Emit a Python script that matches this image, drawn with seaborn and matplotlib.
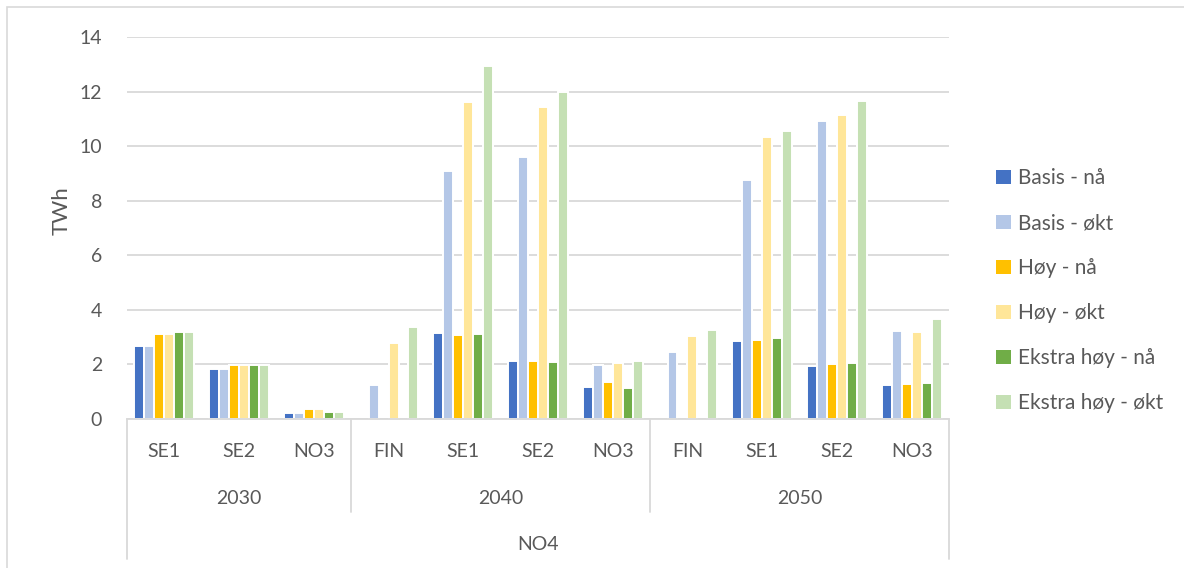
import numpy as np
import pandas as pd
import matplotlib
matplotlib.use("Agg")
import matplotlib.pyplot as plt
from matplotlib.patches import Rectangle
import seaborn as sns

# Category axis: region within each year, all under NO4
years = ["2030", "2030", "2030", "2040", "2040", "2040", "2040", "2050", "2050", "2050", "2050"]
areas = ["SE1", "SE2", "NO3", "FIN", "SE1", "SE2", "NO3", "FIN", "SE1", "SE2", "NO3"]
outer_label = "NO4"

series_names = ["Basis - nå", "Basis - økt", "Høy - nå", "Høy - økt",
                "Ekstra høy - nå", "Ekstra høy - økt"]
series_colors = ["#4472C4", "#B4C7E7", "#FFC000", "#FFE699", "#70AD47", "#C5E0B4"]

nan = np.nan
basis_naa = [2.68, 1.83, 0.22, nan, 3.15, 2.13, 1.19, nan, 2.85, 1.96, 1.24]
basis_okt = [2.68, 1.83, 0.22, 1.25, 9.08, 9.60, 1.99, 2.45, 8.76, 10.93, 3.24]
hoy_naa = [3.13, 1.98, 0.37, nan, 3.09, 2.11, 1.37, nan, 2.88, 2.03, 1.29]
hoy_okt = [3.13, 1.98, 0.37, 2.79, 11.60, 11.45, 2.07, 3.04, 10.33, 11.13, 3.20]
ekstra_naa = [3.20, 1.98, 0.27, nan, 3.12, 2.10, 1.13, nan, 2.96, 2.07, 1.32]
ekstra_okt = [3.20, 1.98, 0.27, 3.36, 12.95, 11.99, 2.13, 3.26, 10.54, 11.65, 3.68]

series_values = [basis_naa, basis_okt, hoy_naa, hoy_okt, ekstra_naa, ekstra_okt]

keys = [f"{y} {a}" for y, a in zip(years, areas)]
rows = []
for name, vals in zip(series_names, series_values):
    for k, v in zip(keys, vals):
        rows.append({"key": k, "series": name, "TWh": v})
df = pd.DataFrame(rows).dropna()

sns.set_theme(style="white")
plt.rcParams["font.family"] = ["Lato", "DejaVu Sans"]
text_col = "#595959"
grid_col = "#D9D9D9"

W, H = 1184, 568
fig = plt.figure(figsize=(W / 100, H / 100), dpi=100)
ax = fig.add_axes([127 / W, 1 - 419 / H, (949 - 127) / W, (419 - 37) / H])

sns.barplot(data=df, x="key", y="TWh", hue="series", order=keys,
            hue_order=series_names, palette=series_colors, saturation=1,
            width=0.8, errorbar=None, edgecolor="white", linewidth=1.4, ax=ax)

ax.set_ylim(0, 14)
ax.set_yticks(range(0, 15, 2))
ax.set_xlim(-0.5, len(keys) - 0.5)
ax.set_axisbelow(True)
ax.yaxis.grid(True, color=grid_col, linewidth=1.3)
ax.xaxis.grid(False)
for s in ["left", "right", "top"]:
    ax.spines[s].set_visible(False)
ax.spines["bottom"].set_color(grid_col)
ax.spines["bottom"].set_linewidth(1.3)

ax.set_xticks(range(len(keys)))
ax.set_xticklabels(areas)
ax.tick_params(axis="x", length=0, pad=17, labelsize=14, labelcolor=text_col)
ax.tick_params(axis="y", length=0, pad=18, labelsize=14, labelcolor=text_col)
ax.set_xlabel("")
ax.set_ylabel("")
fig.text(62 / W, 1 - 211 / H, "TWh", rotation=90, ha="center", va="center",
         fontsize=16, color=text_col)

# Multi-level category table below the axis
xt = ax.get_xaxis_transform()
def ax_y(py):
    return -(py - 419) / (419 - 37)

groups = []
for i, y in enumerate(years):
    if not groups or groups[-1][0] != y:
        groups.append([y, i, i])
    else:
        groups[-1][2] = i

for gi, (y, i0, i1) in enumerate(groups):
    ax.text((i0 + i1) / 2, ax_y(498), y, transform=xt, ha="center", va="center",
            fontsize=14, color=text_col)
    if gi > 0:
        ax.plot([i0 - 0.5, i0 - 0.5], [0, ax_y(512)], transform=xt, color=grid_col,
                linewidth=1.3, clip_on=False)
for xb in [-0.5, len(keys) - 0.5]:
    ax.plot([xb, xb], [0, ax_y(559)], transform=xt, color=grid_col,
            linewidth=1.3, clip_on=False)
ax.text((len(keys) - 1) / 2, ax_y(544), outer_label, transform=xt, ha="center",
        va="center", fontsize=14, color=text_col)

# Legend on the right
handles, labels = ax.get_legend_handles_labels()
for h in handles:
    h.set_edgecolor("none")
leg = fig.legend(handles, labels, loc="upper left",
                 bbox_to_anchor=(988 / W, 1 - 160 / H), frameon=False,
                 fontsize=15, handlelength=0.7, handleheight=0.7,
                 handletextpad=0.35, labelspacing=1.2, borderaxespad=0)
for t in leg.get_texts():
    t.set_color(text_col)
if ax.get_legend() is not None:
    ax.get_legend().remove()

# Chart area border
fig.patches.append(Rectangle((7 / W, -0.05), 1.1, 1 - 7 / H + 0.05,
                             transform=fig.transFigure, fill=False,
                             edgecolor=grid_col, linewidth=1.2))

fig.savefig("out.png", dpi=100)
